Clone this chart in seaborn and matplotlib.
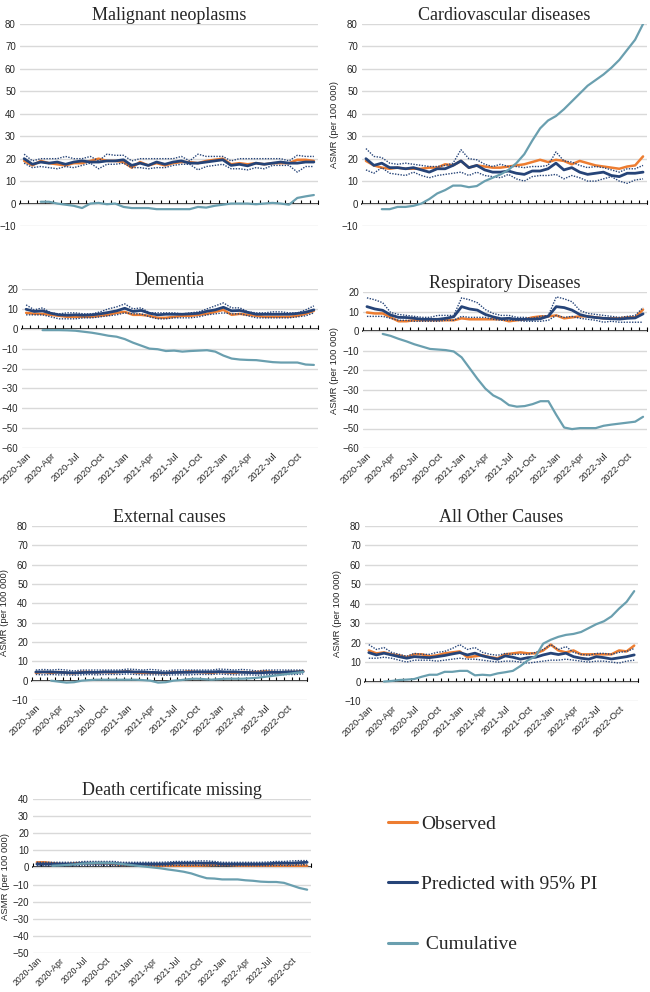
import numpy as np
import pandas as pd
import matplotlib.pyplot as plt
from matplotlib.lines import Line2D
import seaborn as sns

# monthly series, 2020-Jan .. 2022-Dec (36 months)
tick_labels = ["2020-Jan", "2020-Apr", "2020-Jul", "2020-Oct",
               "2021-Jan", "2021-Apr", "2021-Jul", "2021-Oct",
               "2022-Jan", "2022-Apr", "2022-Jul", "2022-Oct"]
months = np.arange(36)
nan = np.nan

# Malignant neoplasms
mal_obs = [19, 17, 19, 18, 17.5, 17, 18, 18, 19, 20, 19, 19, 18.5, 16, 18.5, 17, 18, 17,
           18, 18.5, 18.5, 18, 19, 19.5, 20, 17.5, 18, 17.5, 18, 17.5, 18, 18, 18, 19.5, 19.5, 19]
mal_pred = [20, 17.5, 18.5, 18, 18.5, 17.5, 18.5, 19, 18.5, 18.5, 19, 19, 19.5, 17, 18, 17, 18.5, 17.5,
            18.5, 19, 18, 18, 18.5, 19, 19.5, 17, 17.5, 16.8, 18, 17.5, 18, 18.5, 18, 18, 18.5, 18.5]
mal_hi = [22, 19, 20, 20, 20, 21, 20, 20, 21, 19, 22, 21.5, 21.5, 19, 20, 20, 20, 20,
          20, 21, 19, 22, 21, 21, 21, 19, 20, 20, 20, 20, 20, 20, 19, 21.5, 21, 21]
mal_lo = [18, 16, 16.5, 16, 15.5, 16.5, 16, 17, 18, 15.5, 17.5, 17.5, 18, 16, 16, 15.5, 16, 16,
          17, 17.5, 17.5, 15, 16.5, 17, 17.5, 15.5, 15.5, 15, 16, 15.5, 17, 17, 17, 14, 16.5, 16.5]
mal_cum = [nan, nan, 0.8, 0.8, 0, -0.5, -1, -2, 0, 0.3, -0.3, 0, -1.5, -2, -2, -2, -2.5, -2.5,
           -2.5, -2.5, -2.5, -1.5, -1.8, -1, -0.5, 0, 0, 0, -0.3, 0, 0.3, 0, -0.5, 2.5, 3.2, 3.8]

# Cardiovascular diseases
cvd_obs = [19, 17, 16, 15.5, 16, 15.5, 15.5, 15.5, 16, 16, 17.5, 17, 19, 16, 17, 16.5, 16, 16,
           16.5, 17, 17.5, 18.5, 19.5, 18.5, 19.5, 19, 17.5, 19, 18, 17, 16.5, 16, 15.5, 16.5, 17, 21]
cvd_pred = [20, 17, 18, 16, 16, 15.5, 16, 15, 14, 15.5, 15.5, 17, 19, 16, 17, 15, 14, 14,
            14.5, 13.5, 13, 14.5, 14.5, 15.5, 18, 15, 16, 14, 13, 13.5, 14, 12.5, 12, 13.5, 13.5, 14]
cvd_hi = [24.5, 21, 20.5, 18, 17.5, 18, 17.5, 17, 16.5, 16.5, 17, 18, 24, 20, 19.5, 17.5, 16.5, 17.5,
          16.5, 16.5, 16, 16.5, 16.5, 17, 23, 19, 18.5, 17, 16, 16.5, 16, 15, 14, 15.5, 15.5, 17]
cvd_lo = [15, 13.5, 16, 13.5, 13, 12.5, 14, 12.5, 11.5, 12.5, 13, 13.5, 14, 12.5, 14, 12.5, 12, 11.5,
          13, 11, 10, 12, 12.5, 12.5, 13, 11, 12.5, 11.5, 10, 10, 11, 12, 10, 9, 10.5, 11]
cvd_cum = [nan, nan, -2.5, -2.5, -1.5, -1.5, -1, 0, 2, 4.5, 6, 8, 8, 7.3, 7.8, 10, 11.5, 13,
           15, 18, 22, 28, 33.5, 37, 39, 42, 45.5, 49, 52.5, 55, 57.5, 60.5, 64, 68.5, 73, 80]

# Dementia
dem_obs = [8, 7.5, 7.5, 7, 6.5, 6, 6, 6, 6, 6.5, 7, 8, 8.5, 7, 7, 6.5, 5.5, 5.5,
           6, 6.5, 6.5, 7, 7.5, 8.5, 9.5, 7, 7.5, 7, 6.5, 6, 6, 6, 6, 6.5, 7.5, 9]
dem_pred = [9.8, 8.7, 9, 7.8, 7, 6.8, 7, 6.8, 7, 7.5, 8.2, 9, 10.3, 8.7, 9.2, 7.8, 7, 7.3,
            7.3, 7.3, 7.5, 7.8, 8.8, 9.5, 10.8, 9, 9.2, 8.2, 7.3, 7.3, 7.3, 7.3, 7.3, 7.7, 8.3, 9.5]
dem_hi = [12, 9.5, 10.5, 8, 7.5, 8, 8, 7.5, 7.5, 8.5, 10, 11, 12.5, 10, 10.5, 8, 8, 8,
          8, 7.5, 8, 8.5, 10, 11.5, 13, 10.5, 10.5, 8.5, 8, 8, 8.5, 8.5, 8, 8, 9.5, 11.5]
dem_lo = [7, 7, 7, 6, 5, 5, 5, 5.5, 5.5, 6, 6.5, 7, 8, 7.5, 7.5, 6, 5, 5,
          5.5, 5.5, 5.5, 6, 7, 7.5, 8, 7.5, 7.5, 6.5, 5.5, 5.5, 5.5, 5.5, 5.5, 6, 6.5, 8]
dem_cum = [nan, nan, -0.7, -0.7, -0.7, -0.8, -1, -1.5, -2, -2.7, -3.5, -4, -5.2, -7, -8.5, -10, -10.3, -11.2,
           -11, -11.5, -11.2, -11, -10.8, -11.5, -13.5, -15, -15.5, -15.7, -15.8, -16.3, -16.8, -17, -17, -17, -18, -18.2]

# Respiratory diseases
resp_obs = [9.5, 9, 9, 7, 5, 5, 5.5, 5.5, 5.5, 5.5, 5.5, 5.5, 6.5, 6, 6, 6, 6, 6,
            5, 5.5, 6, 7, 7.5, 7.5, 8, 6.5, 7, 7.5, 7.5, 7, 6.5, 6.5, 6.5, 7, 7, 11]
resp_pred = [12.5, 11.3, 10.6, 8.2, 7, 6.9, 6.5, 6, 6, 6, 6.5, 7.3, 12.5, 11.3, 10.7, 8.5, 7.2, 6.3,
             6.5, 6, 6, 6, 6.3, 7.6, 12.5, 12, 10.7, 8.4, 7.4, 6.9, 6.5, 6.3, 6.1, 6.5, 6.7, 8.8]
resp_hi = [17, 16, 14.5, 9.5, 8.5, 8, 7.5, 7, 7, 8, 8, 8, 17, 16, 14.5, 11, 9, 8,
           8, 7, 7, 6.5, 7.5, 8, 17.5, 16.5, 15, 10.5, 9, 8.5, 8, 7.5, 7, 7.5, 8, 12]
resp_lo = [7.5, 7.5, 7.5, 6.5, 5.5, 5.5, 5, 5, 5, 5, 5.5, 5.5, 7.5, 7, 7, 7, 6, 5.5,
           5.5, 5.5, 5, 5, 5, 5.5, 8, 7, 7.5, 6.5, 6, 5.5, 4.5, 5, 4.5, 4.5, 4.5, 4.5]
resp_cum = [nan, nan, -1.5, -2.5, -4, -5.3, -6.8, -8, -9.2, -9.5, -9.8, -10.5, -13.5, -19, -24.5, -29.5, -33, -35,
            -38, -38.8, -38.5, -37.5, -36, -36, -43, -49.5, -50.3, -49.8, -49.8, -49.8, -48.6, -48, -47.5, -47, -46.5, -44]

# External causes
ext_obs = [4, 4.5, 4, 4.5, 4, 3.8, 4.5, 4.5, 4.3, 4.5, 4.2, 4.5, 4.8, 4.3, 4, 4, 4, 3.8,
           4.5, 4.3, 4.8, 4.5, 4.3, 4, 4.5, 4.3, 4, 4.5, 4.3, 4.5, 4.8, 4.5, 4.3, 4.5, 4.5, 5]
ext_pred = [4.5, 4.5, 4.5, 4.3, 4.2, 4, 4.2, 4.3, 4.3, 4.5, 4.5, 4.5, 4.7, 4.5, 4.5, 4.3, 4.2, 4,
            4.2, 4.3, 4.3, 4.5, 4.5, 4.5, 4.7, 4.5, 4.5, 4.3, 4.2, 4, 4.2, 4.3, 4.3, 4.5, 4.5, 4.7]
ext_hi = [5.5, 5.8, 5.5, 5.8, 5.5, 5, 5.5, 5.5, 5.5, 5.5, 5.5, 5.5, 6, 5.8, 5.5, 5.8, 5.5, 5,
          5.5, 5.5, 5.5, 5.5, 5.5, 5.5, 6, 5.8, 5.5, 5.8, 5.5, 5, 5.5, 5.5, 5.5, 5.5, 5.5, 5.5]
ext_lo = [3.2, 3, 3.2, 3, 3, 2.8, 3, 3.2, 3, 3.2, 3.2, 3.2, 3.5, 3.2, 3, 3, 3, 2.8,
          3, 3, 3, 3.2, 3.2, 3.2, 3.5, 3.2, 3, 3, 3, 2.8, 3, 3.2, 3, 3.2, 3.2, 3.5]
ext_cum = [nan, nan, 0, -0.5, -1, -0.8, 0, 0.3, 0.5, 0.5, 0.5, 0.5, 0.5, 0.5, 0.3, 0, -1, -0.8,
           0, 0.3, 0.8, 1, 0.8, 0.5, 0.8, 1, 1, 1, 1.2, 1.5, 2, 2.5, 3, 3.5, 4, 4.5]

# All other causes
oth_obs = [16, 14.5, 15, 14, 13.5, 12.5, 14, 14, 13, 13.5, 14.5, 15, 15.5, 12.5, 13, 13.5, 12.5, 12,
           14, 14.5, 15, 14.5, 14.5, 16, 19, 16, 15, 16, 14, 14, 14, 14, 14, 16, 15.5, 18.5]
oth_pred = [14.9, 13.7, 14.6, 13.7, 12.8, 12, 12.8, 12.5, 12.3, 12.8, 13.4, 14.2, 14.9, 13.7, 14.6, 13.2, 12.3, 11.5,
            13.2, 12.5, 11.5, 12.3, 12.5, 13.7, 14.6, 13.9, 14.6, 12.8, 12, 11.5, 12.8, 12.3, 11.6, 12.2, 12.8, 13.7]
oth_hi = [19, 16.5, 17.5, 15, 14, 13, 14.5, 14, 14, 15, 15.5, 17, 19, 16.5, 17.5, 15, 14, 13.5,
          14.5, 14, 14, 14, 15, 16.5, 19, 16.5, 18, 15, 14, 13.5, 14.5, 14.5, 14, 15, 15.5, 17]
oth_lo = [12, 12, 12.5, 12, 11, 10, 11, 11, 11, 10.5, 11, 11.5, 12, 11.5, 11.5, 11, 10.5, 10,
          10.5, 10.5, 10, 9.5, 10, 10.5, 11, 11, 11.5, 11, 10.5, 10, 10.5, 10.5, 10, 9.5, 10.5, 11]
oth_cum = [nan, nan, 0, 0.3, 0.8, 1, 1.3, 2.5, 3.5, 3.5, 5, 5, 5.5, 5.5, 3.2, 3.5, 3.2, 4.2,
           4.8, 5.5, 8, 11, 13, 19.5, 21.5, 23, 24, 24.5, 25.5, 27.5, 29.5, 31, 33.5, 37.5, 41, 46.5]

# Death certificate missing
dcm_obs = [3, 3, 2.5, 2, 2, 2.5, 2.5, 2.5, 2.5, 2.5, 2, 1.5, 1.5, 1.5, 1.5, 1, 1, 1,
           1, 1, 1, 1, 1.2, 1.5, 1.5, 1.5, 1, 1, 1, 1, 1, 1, 1, 1, 1, 1]
dcm_pred = [2, 2, 2, 2, 2, 2, 2.5, 2.5, 2.5, 2.5, 2.5, 2, 2, 2, 2, 2, 2, 2.2,
            2.5, 2.5, 2.5, 2.5, 2.5, 2.5, 2, 2, 2, 2, 2, 2, 2.2, 2.5, 2.5, 2.5, 2.8, 3]
dcm_hi = [3, 3, 3, 3, 3, 3, 3.5, 3.5, 3.5, 3.5, 3.5, 3, 3, 3, 3, 3, 3, 3.2,
          3.5, 3.5, 3.5, 3.8, 3.8, 3.5, 3, 3, 3, 3, 3, 3, 3.2, 3.5, 3.5, 3.8, 4, 4]
dcm_lo = [1, 1, 1, 1, 1, 1, 1.2, 1.2, 1.2, 1.2, 1.2, 1, 1, 1, 1, 1, 1, 1,
          1.2, 1.2, 1.2, 1.2, 1.2, 1.2, 1, 1, 1, 1, 1, 1, 1, 1.2, 1.2, 1.2, 1.5, 1.5]
dcm_cum = [nan, nan, 1, 1.2, 1.5, 1.8, 2.3, 2.5, 2.7, 2.7, 2.5, 2, 1.5, 1, 0.5, 0, -0.5, -1.2,
           -1.8, -2.5, -3.5, -5, -6.3, -6.5, -7, -7, -7, -7.5, -7.8, -8.3, -8.5, -8.5, -9, -10.5, -12, -13]

ORANGE = "#ED7D31"
NAVY = "#264478"
TEAL = "#6A9FAF"
GRID = "#D9D9D9"

sns.set_theme(style="white")
plt.rcParams["font.family"] = ["Liberation Sans", "DejaVu Sans"]
SERIF = ["Liberation Serif", "DejaVu Serif"]

W, H = 650, 992
fig = plt.figure(figsize=(W / 100, H / 100), dpi=100)


def panel(rect, title, obs, pred, lo, hi, cum, ylim, ylabel=True, xlabels=True, xsize=6.8):
    l, t, r, b = rect
    ax = fig.add_axes([l / W, 1 - b / H, (r - l) / W, (b - t) / H])
    df = pd.DataFrame({"month": months, "obs": obs, "pred": pred,
                       "lo": lo, "hi": hi, "cum": cum})
    sns.lineplot(data=df, x="month", y="obs", color=ORANGE, lw=1.8, ax=ax, zorder=3)
    sns.lineplot(data=df, x="month", y="lo", color=NAVY, lw=1.0, ls=(0, (1, 1)), ax=ax, zorder=4)
    sns.lineplot(data=df, x="month", y="hi", color=NAVY, lw=1.0, ls=(0, (1, 1)), ax=ax, zorder=4)
    sns.lineplot(data=df, x="month", y="pred", color=NAVY, lw=2.0, ax=ax, zorder=5)
    sns.lineplot(data=df.dropna(), x="month", y="cum", color=TEAL, lw=1.6, ax=ax, zorder=6)

    ax.set_xlim(-0.5, 35.5)
    ax.set_ylim(*ylim)
    ax.set_yticks(np.arange(ylim[0], ylim[1] + 1, 10))
    ax.yaxis.grid(True, color=GRID, lw=1.0)
    ax.set_axisbelow(True)
    for s in ax.spines.values():
        s.set_visible(False)
    ax.tick_params(axis="y", length=0, labelsize=7, pad=3)
    ax.set_xticks(months[::3])
    if xlabels:
        ax.set_xticklabels(tick_labels, rotation=45, ha="right", rotation_mode="anchor")
    else:
        ax.set_xticklabels([])
    ax.tick_params(axis="x", length=0, labelsize=xsize, pad=2)
    ax.set_xlabel("")
    ax.set_ylabel("ASMR (per 100 000)" if ylabel else "", fontsize=6.8, labelpad=2)
    ax.set_title(title, fontsize=13, family=SERIF, pad=3)

    # horizontal category axis crossing at zero
    zero = ax.secondary_xaxis(0, transform=ax.transData)
    zero.set_xticks(np.arange(-0.5, 36, 1))
    zero.tick_params(direction="in", length=3, width=0.8, color="black", labelbottom=False)
    for s in zero.spines.values():
        s.set_color("black")
        s.set_linewidth(1.2)
    return ax


panel((20, 24, 318, 226), "Malignant neoplasms", mal_obs, mal_pred, mal_lo, mal_hi, mal_cum,
      (-10, 80), ylabel=False, xlabels=False)
panel((362, 24, 647, 226), "Cardiovascular diseases", cvd_obs, cvd_pred, cvd_lo, cvd_hi, cvd_cum,
      (-10, 80), xlabels=False)
panel((22, 289, 318, 448), "Dementia", dem_obs, dem_pred, dem_lo, dem_hi, dem_cum,
      (-60, 20), ylabel=False)
panel((363, 292, 647, 448), "Respiratory Diseases", resp_obs, resp_pred, resp_lo, resp_hi, resp_cum,
      (-60, 20))
panel((32, 526, 307, 700), "External causes", ext_obs, ext_pred, ext_lo, ext_hi, ext_cum,
      (-10, 80))
panel((365, 526, 638, 701), "All Other Causes", oth_obs, oth_pred, oth_lo, oth_hi, oth_cum,
      (-10, 80))
panel((33, 799, 311, 953), "Death certificate missing", dcm_obs, dcm_pred, dcm_lo, dcm_hi, dcm_cum,
      (-50, 40), xsize=6.2)

handles = [Line2D([], [], color=ORANGE, lw=2.2),
           Line2D([], [], color=NAVY, lw=2.2),
           Line2D([], [], color=TEAL, lw=2.2)]
fig.legend(handles, ["Observed", "Predicted with 95% PI", " Cumulative"],
           loc="upper left", bbox_to_anchor=(388 / W, 1 - 815 / H),
           frameon=False, prop={"family": SERIF, "size": 14},
           handlelength=1.5, handletextpad=0.2, labelspacing=2.2,
           borderpad=0, borderaxespad=0)

fig.savefig("out.png", dpi=100)
